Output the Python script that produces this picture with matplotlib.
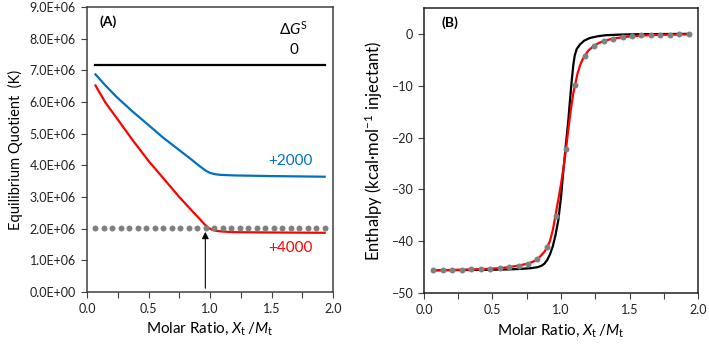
import numpy as np
import matplotlib
matplotlib.use("Agg")
import matplotlib.pyplot as plt
from matplotlib.ticker import MultipleLocator, FormatStrFormatter

plt.rcParams['font.family'] = ['Lato', 'DejaVu Sans']
plt.rcParams['mathtext.fontset'] = 'custom'
plt.rcParams['mathtext.rm'] = 'Lato'
plt.rcParams['mathtext.it'] = 'Lato:italic'

# injection points (molar ratio)
inj_x = [0.069, 0.138, 0.207, 0.276, 0.345, 0.414, 0.483, 0.552, 0.621, 0.690,
         0.759, 0.828, 0.897, 0.966, 1.035, 1.104, 1.173, 1.242, 1.311, 1.380,
         1.449, 1.518, 1.587, 1.656, 1.725, 1.794, 1.863, 1.932]

# panel A: equilibrium quotient
a_black_x = [0.069, 1.932]
a_black_y = [7.17e6, 7.17e6]
a_blue_x = [0.069, 0.15, 0.24, 0.37, 0.5, 0.62, 0.75, 0.85, 0.92, 0.97, 1.0, 1.04, 1.08, 1.2, 1.5, 1.932]
a_blue_y = [6.87e6, 6.52e6, 6.16e6, 5.70e6, 5.27e6, 4.87e6, 4.48e6, 4.18e6, 3.96e6, 3.82e6, 3.76e6, 3.72e6, 3.70e6, 3.68e6, 3.66e6, 3.64e6]
a_red_x = [0.069, 0.15, 0.24, 0.37, 0.5, 0.645, 0.75, 0.85, 0.92, 0.96, 0.99, 1.02, 1.05, 1.1, 1.19, 1.5, 1.932]
a_red_y = [6.52e6, 5.98e6, 5.50e6, 4.80e6, 4.14e6, 3.48e6, 3.00e6, 2.58e6, 2.29e6, 2.12e6, 2.02e6, 1.96e6, 1.93e6, 1.91e6, 1.89e6, 1.88e6, 1.87e6]
a_dots_y = [2.03e6] * 28
a_yticks = [0, 1e6, 2e6, 3e6, 4e6, 5e6, 6e6, 7e6, 8e6, 9e6]

# panel B: enthalpy
b_dots_y = [-45.6, -45.55, -45.5, -45.5, -45.45, -45.4, -45.3, -45.2, -45.0, -44.7,
            -44.3, -43.4, -41.1, -35.1, -22.3, -9.9, -4.3, -2.3, -1.4, -0.9,
            -0.65, -0.45, -0.3, -0.25, -0.2, -0.15, -0.12, -0.1]
b_red_x = [0.069, 0.2, 0.35, 0.45, 0.55, 0.62, 0.69, 0.76, 0.80, 0.83, 0.86, 0.88, 0.90,
           0.92, 0.94, 0.956, 0.97, 0.985, 1.0, 1.02, 1.036, 1.05, 1.07, 1.09, 1.105,
           1.12, 1.14, 1.16, 1.175, 1.20, 1.24, 1.28, 1.31, 1.38, 1.45, 1.52, 1.6,
           1.7, 1.8, 1.932]
b_red_y = [-45.6, -45.55, -45.45, -45.35, -45.2, -45.0, -44.7, -44.3, -43.9, -43.4, -42.6,
           -42.0, -41.1, -39.9, -37.9, -35.6, -33.5, -31.3, -29.0, -25.5, -22.3, -19.2,
           -15.0, -11.4, -9.6, -7.7, -6.0, -4.8, -4.2, -3.2, -2.3, -1.7, -1.4, -0.9,
           -0.65, -0.45, -0.3, -0.2, -0.15, -0.1]
b_black_x = [0.069, 0.3, 0.5, 0.6, 0.7, 0.78, 0.83, 0.86, 0.88, 0.90, 0.92, 0.94, 0.96,
             0.98, 1.0, 1.017, 1.035, 1.053, 1.065, 1.078, 1.09, 1.10, 1.115, 1.14,
             1.17, 1.21, 1.27, 1.33, 1.45, 1.6, 1.932]
b_black_y = [-45.6, -45.55, -45.5, -45.45, -45.35, -45.2, -45.0, -44.7, -44.3, -43.6,
             -42.5, -41.0, -38.8, -36.0, -31.5, -26.5, -21.5, -16.8, -13.0, -9.1, -6.0,
             -4.2, -2.9, -2.0, -1.3, -0.8, -0.45, -0.25, -0.12, -0.05, 0.0]

fig = plt.figure(figsize=(7.09, 3.46), dpi=100)
axA = fig.add_axes([0.1227, 0.156, 0.347, 0.824])
axB = fig.add_axes([0.598, 0.153, 0.3865, 0.824])

xlab = r"Molar Ratio, $\it{X}_\mathrm{t}\,/\it{M}_\mathrm{t}$"

# ---- panel A
axA.plot(a_black_x, a_black_y, color='black', lw=1.6)
axA.plot(a_blue_x, a_blue_y, color='#0070C0', lw=1.6)
axA.plot(a_red_x, a_red_y, color='#FF0000', lw=1.6)
axA.plot(inj_x, a_dots_y, 'o', color='#808080', ms=4.3, mec='none')
axA.annotate('', xy=(0.962, 1.90e6), xytext=(0.962, 0.12e6),
             arrowprops=dict(arrowstyle='-|>', color='black', lw=0.8,
                             mutation_scale=10, shrinkA=0, shrinkB=0))
axA.text(1.68, 8.3e6, r"$\Delta \it{G}^\mathrm{S}$", ha='center', va='center', fontsize=11)
axA.text(1.68, 7.65e6, "0", ha='center', va='center', fontsize=11)
axA.text(1.65, 4.14e6, "+2000", ha='center', va='center', fontsize=11, color='#0070C0')
axA.text(1.65, 1.39e6, "+4000", ha='center', va='center', fontsize=11, color='#FF0000')
axA.text(0.1, 8.55e6, "(A)", fontweight='bold', fontsize=10, va='center')
axA.set_xlim(0, 2)
axA.set_ylim(0, 9e6)
axA.set_yticks(a_yticks)
axA.set_yticklabels([f"{v:.1E}" for v in a_yticks])
axA.xaxis.set_major_locator(MultipleLocator(0.5))
axA.xaxis.set_minor_locator(MultipleLocator(0.25))
axA.xaxis.set_major_formatter(FormatStrFormatter('%.1f'))
axA.set_ylabel("Equilibrium Quotient  (K)", fontsize=10.5, labelpad=5)
axA.set_xlabel(xlab, fontsize=11)
for s in axA.spines.values():
    s.set_color('#404040')
    s.set_linewidth(1.1)

# ---- panel B
axB.plot(b_black_x, b_black_y, color='black', lw=1.6)
axB.plot(b_red_x, b_red_y, color='#FF0000', lw=1.6)
axB.plot(inj_x, b_dots_y, 'o', color='#808080', ms=4.3, mec='none')
axB.text(0.13, 2.2, "(B)", fontweight='bold', fontsize=10, va='center')
axB.set_xlim(0, 2)
axB.set_ylim(-50, 5)
axB.set_yticks([-50, -40, -30, -20, -10, 0])
axB.xaxis.set_major_locator(MultipleLocator(0.5))
axB.xaxis.set_minor_locator(MultipleLocator(0.25))
axB.xaxis.set_major_formatter(FormatStrFormatter('%.1f'))
axB.set_ylabel(r"Enthalpy (kcal·mol$^{-1}$ injectant)", fontsize=12)
axB.set_xlabel(xlab, fontsize=11)
for s in axB.spines.values():
    s.set_color('#202020')
    s.set_linewidth(1.1)

for ax in (axA, axB):
    ax.tick_params(which='both', direction='out', length=4, width=0.8,
                   color='#404040', labelsize=9, labelcolor='#202020', pad=4)

fig.savefig("out.png", dpi=100)
